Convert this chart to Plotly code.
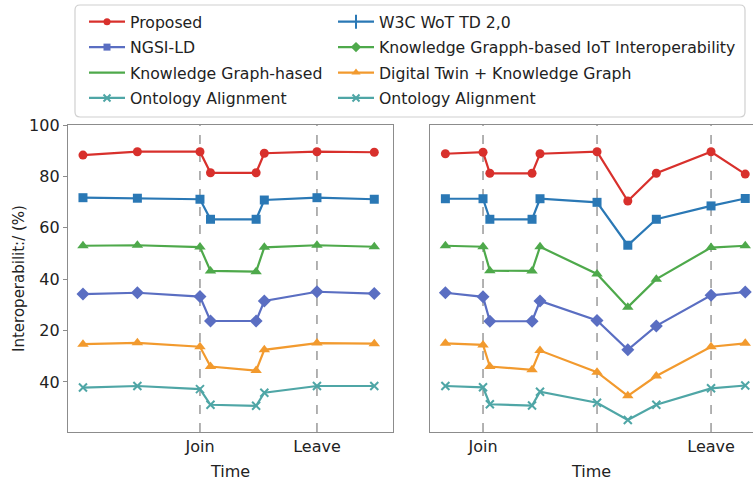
import plotly.graph_objects as go

W, H = 753, 483

# ---------------- data ----------------
event_ticks = [2, 4]
event_labels = ["Join", "Leave"]
left_events = [2, 4]
right_events = [2, 3, 4]

y_tickvals = [0, 20, 40, 60, 80, 100]
y_ticktext = ["40", "20", "40", "60", "80", "100"]

t_left = [0, 0.93, 2, 2.18, 2.96, 3.10, 4, 4.98]
left_proposed = [88.3, 89.6, 89.6, 81.4, 81.4, 89.0, 89.6, 89.4]
left_w3c = [71.7, 71.5, 71.1, 63.3, 63.3, 70.8, 71.7, 71.1]
left_kg_iot = [53.0, 53.2, 52.5, 43.2, 42.9, 52.4, 53.2, 52.6]
left_ngsi = [34.2, 34.7, 33.2, 23.7, 23.7, 31.5, 35.1, 34.4]
left_dt = [14.7, 15.2, 13.7, 6.0, 4.4, 12.5, 15.1, 14.9]
left_onto = [-2.2, -1.6, -2.8, -8.9, -9.3, -4.2, -1.6, -1.6]

t_right = [1.67, 2, 2.06, 2.43, 2.5, 3, 3.27, 3.52, 4, 4.3]
right_proposed = [88.8, 89.4, 81.2, 81.2, 88.8, 89.6, 70.4, 81.2, 89.6, 80.9]
right_w3c = [71.3, 71.3, 63.3, 63.3, 71.3, 69.9, 53.2, 63.3, 68.5, 71.4]
right_kg_iot = [53.0, 52.6, 43.3, 43.2, 52.6, 42.0, 29.1, 40.0, 52.3, 53.0]
right_ngsi = [34.7, 33.1, 23.6, 23.6, 31.5, 23.9, 12.5, 21.8, 33.7, 35.0]
right_dt = [15.0, 14.4, 6.0, 4.7, 12.2, 3.8, -5.4, 2.3, 13.7, 15.0]
right_onto = [-1.6, -2.1, -8.7, -9.2, -3.8, -8.1, -14.8, -8.9, -2.5, -1.4]

# legend entries (two columns)
legend_col1 = ["Proposed", "NGSI-LD", "Knowledge Graph-hased", "Ontology Alignment"]
legend_col2 = ["W3C WoT TD 2,0", "Knowledge Grapph-based IoT Interoperability",
               "Digital Twin + Knowledge Graph", "Ontology Alignment"]

# ---------------- styles ----------------
RED = "#d8302c"
BLUE = "#2a78b5"
GREEN = "#4ea94b"
INDIGO = "#5a6ec2"
ORANGE = "#f29a2e"
TEAL = "#4fa6a6"
FONT = "DejaVu Sans"
TXT = "#222222"
FRAME = "#8c8c8c"

series_style = [
    (RED, "circle", 9, None),
    (BLUE, "square", 9, None),
    (GREEN, "triangle-up", 10, None),
    (INDIGO, "diamond", 10, None),
    (ORANGE, "triangle-up", 10, None),
    (TEAL, "x-thin", 8, 2),
]

left_series = [left_proposed, left_w3c, left_kg_iot, left_ngsi, left_dt, left_onto]
right_series = [right_proposed, right_w3c, right_kg_iot, right_ngsi, right_dt, right_onto]

fig = go.Figure()


def add_series(xs, ys, style, xa, ya):
    color, sym, size, lw = style
    marker = dict(symbol=sym, size=size, color=color)
    if lw:
        marker["line"] = dict(color=color, width=lw)
    fig.add_trace(go.Scatter(
        x=xs, y=ys, mode="lines+markers", xaxis=xa, yaxis=ya,
        line=dict(color=color, width=2.2), marker=marker,
        showlegend=False, hoverinfo="skip"))


for ys, st in zip(left_series, series_style):
    add_series(t_left, ys, st, "x", "y")
for ys, st in zip(right_series, series_style):
    add_series(t_right, ys, st, "x2", "y2")

legend_styles_col1 = [
    (RED, "circle", 7, None, "lines+markers"),
    (INDIGO, "square", 7, None, "lines+markers"),
    (GREEN, None, 0, None, "lines"),
    (TEAL, "x-thin", 7, 2, "lines+markers"),
]
legend_styles_col2 = [
    (BLUE, "line-ns", 10, 2, "lines+markers"),
    (GREEN, "diamond", 8, None, "lines+markers"),
    (ORANGE, "triangle-up", 8, None, "lines+markers"),
    (TEAL, "x-thin", 7, 2, "lines+markers"),
]


def add_legend_entry(name, style, legend, group):
    color, sym, size, lw, mode = style
    marker = dict(color=color)
    if sym:
        marker.update(symbol=sym, size=size)
    if lw:
        marker["line"] = dict(color=color, width=lw)
    fig.add_trace(go.Scatter(
        x=[None], y=[None], mode=mode, name=name, legend=legend, legendgroup=group,
        line=dict(color=color, width=2.2), marker=marker))


for i, (n, st) in enumerate(zip(legend_col1, legend_styles_col1)):
    add_legend_entry(n, st, "legend", f"a{i}")
for i, (n, st) in enumerate(zip(legend_col2, legend_styles_col2)):
    add_legend_entry(n, st, "legend2", f"b{i}")

# event lines
for e in left_events:
    fig.add_shape(type="line", xref="x", yref="y domain", x0=e, x1=e, y0=0, y1=1,
                  line=dict(color="#8a8a8a", width=1.3, dash="dash"), layer="below")
for e in right_events:
    fig.add_shape(type="line", xref="x2", yref="y2 domain", x0=e, x1=e, y0=0, y1=1,
                  line=dict(color="#8a8a8a", width=1.3, dash="dash"), layer="below")

# legend frame
L, R, T, B = 0, 0, 125, 51
ph = H - T - B


def px_to_py(py):
    return (H - B - py) / ph


lx0, lx1 = 75 / W, 745 / W
ly0, ly1 = px_to_py(117), px_to_py(5)
rx, ry = 5 / W, 5 / ph
path = (f"M{lx0+rx},{ly1} L{lx1-rx},{ly1} Q{lx1},{ly1} {lx1},{ly1-ry} "
        f"L{lx1},{ly0+ry} Q{lx1},{ly0} {lx1-rx},{ly0} L{lx0+rx},{ly0} "
        f"Q{lx0},{ly0} {lx0},{ly0+ry} L{lx0},{ly1-ry} Q{lx0},{ly1} {lx0+rx},{ly1} Z")
fig.add_shape(type="path", xref="paper", yref="paper", path=path,
              line=dict(color="#d0d0d0", width=1.2), fillcolor="white", layer="below")

axis_common = dict(showgrid=False, zeroline=False, showline=True, linecolor=FRAME,
                   linewidth=1.3, tickfont=dict(family=FONT, size=16, color=TXT))

legend_common = dict(xanchor="left", yanchor="top", bgcolor="rgba(0,0,0,0)",
                     font=dict(family=FONT, size=15.7, color=TXT), orientation="v",
                     tracegroupgap=2, itemwidth=36)

fig.update_layout(
    width=W, height=H,
    margin=dict(l=L, r=R, t=T, b=B, autoexpand=False),
    paper_bgcolor="white", plot_bgcolor="white",
    font=dict(family=FONT, size=15, color=TXT),
    xaxis=dict(axis_common, domain=[68 / W, 393 / W], range=[-0.256, 5.30],
               tickvals=event_ticks, ticktext=event_labels, ticks="", mirror=True,
               title=dict(text="Time", font=dict(family=FONT, size=16, color=TXT), standoff=10),
               automargin=False),
    yaxis=dict(axis_common, range=[-19.5, 100], tickvals=y_tickvals, ticktext=y_ticktext,
               ticks="outside", ticklen=4, tickcolor=FRAME, mirror=True,
               title=dict(text="Interoperabilit:/ (%)", font=dict(family=FONT, size=15, color=TXT),
                          standoff=0),
               automargin=False),
    xaxis2=dict(axis_common, domain=[430 / W, 1.0], range=[1.535, 4.368],
                tickvals=event_ticks, ticktext=event_labels, ticks="", mirror=True,
                title=dict(text="Time", font=dict(family=FONT, size=16, color=TXT), standoff=10),
                automargin=False, anchor="y2"),
    yaxis2=dict(axis_common, range=[-19.5, 100], showticklabels=False, ticks="",
                mirror=False, anchor="x2", matches="y", automargin=False),
    legend=dict(legend_common, x=84 / W, y=px_to_py(5)),
    legend2=dict(legend_common, x=333 / W, y=px_to_py(5)),
)

fig.write_html("out.html", config={"displayModeBar": False},
               post_script="document.body.style.margin='0';")
